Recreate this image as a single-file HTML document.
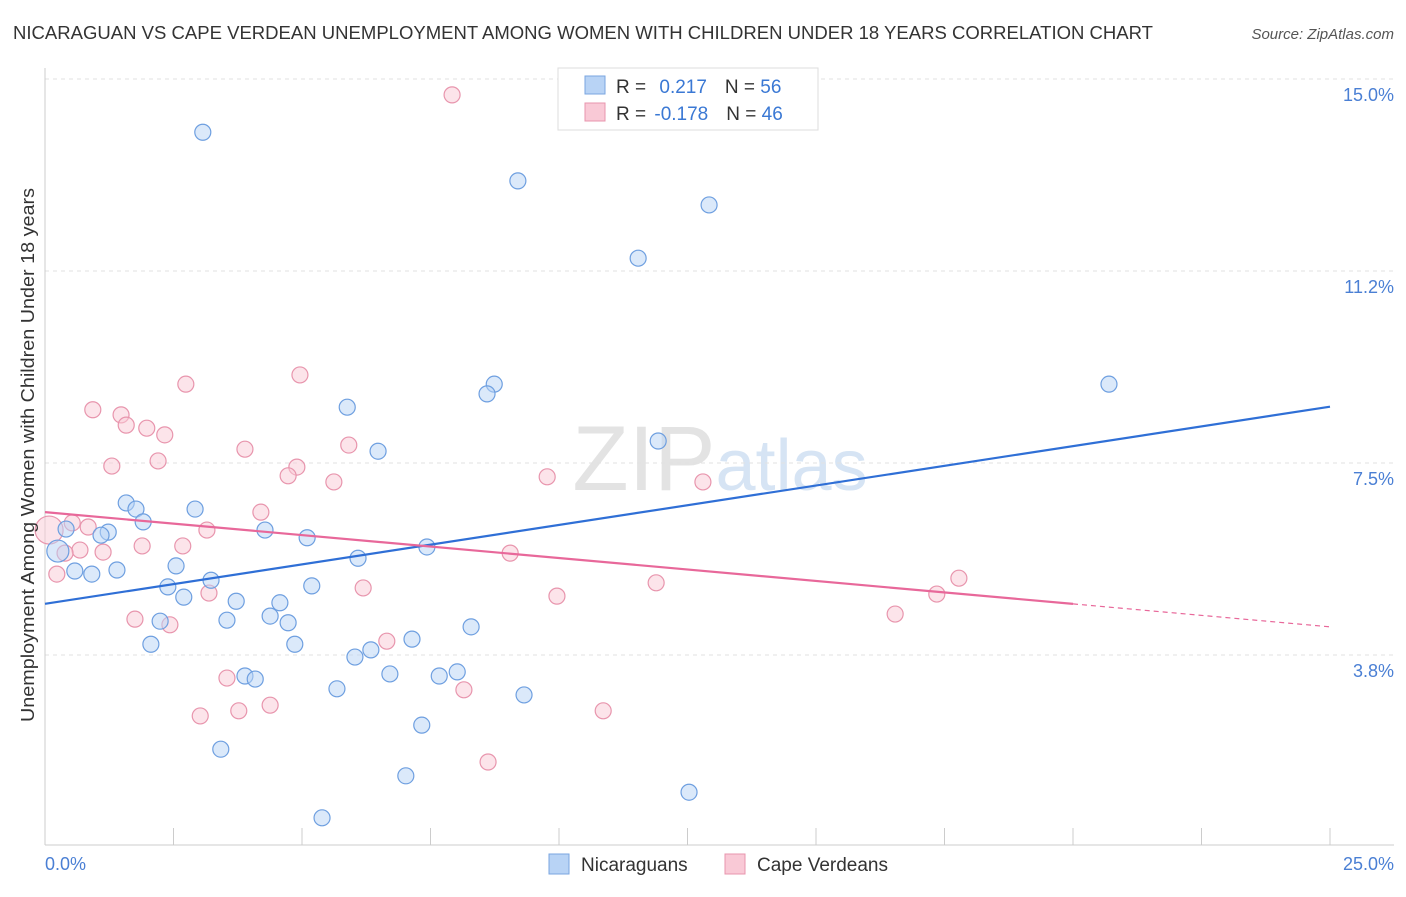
<!DOCTYPE html>
<html><head><meta charset="utf-8">
<style>
body{margin:0;background:#fff;font-family:"Liberation Sans",sans-serif;}
svg text{font-family:"Liberation Sans",sans-serif;}
</style></head>
<body>
<svg id="chart" width="1406" height="892" xmlns="http://www.w3.org/2000/svg">
<text x="13" y="39" font-size="18" fill="#333" textLength="1140" lengthAdjust="spacingAndGlyphs">NICARAGUAN VS CAPE VERDEAN UNEMPLOYMENT AMONG WOMEN WITH CHILDREN UNDER 18 YEARS CORRELATION CHART</text>
<text x="1394" y="39" font-size="15" fill="#555" font-style="italic" text-anchor="end">Source: ZipAtlas.com</text>
<text x="720" y="490" font-size="92" fill="#e3e3e3" text-anchor="middle" font-family="Liberation Serif">ZIP<tspan fill="#d6e4f4" font-family="Liberation Sans" font-size="72">atlas</tspan></text>
<g id="grid"></g>
<g id="axes"></g>
<g id="marks"></g>
<text transform="translate(34,455) rotate(-90)" font-size="18" fill="#333" text-anchor="middle" textLength="534" lengthAdjust="spacingAndGlyphs">Unemployment Among Women with Children Under 18 years</text>
<text x="45" y="870" font-size="18" fill="#4a7fd4">0.0%</text>
<text x="1394" y="870" font-size="18" fill="#4a7fd4" text-anchor="end">25.0%</text>
<g>
<rect x="558" y="68" width="260" height="62" fill="#fff" stroke="#ddd"/>
<rect x="585" y="76" width="20" height="18" fill="#b8d3f5" stroke="#7aa6e0"/>
<rect x="585" y="103" width="20" height="18" fill="#f9c9d6" stroke="#e895ad"/>
<text x="616" y="93" font-size="19" fill="#333">R = <tspan fill="#3a78d4" dx="8">0.217</tspan><tspan dx="18">N = </tspan><tspan fill="#3a78d4">56</tspan></text>
<text x="616" y="120" font-size="19" fill="#333">R = <tspan fill="#3a78d4" dx="3">-0.178</tspan><tspan dx="18">N = </tspan><tspan fill="#3a78d4">46</tspan></text>
</g>
<g>
<rect x="549" y="854" width="20" height="20" fill="#b8d3f5" stroke="#7aa6e0"/>
<text x="581" y="871" font-size="19" fill="#333">Nicaraguans</text>
<rect x="725" y="854" width="20" height="20" fill="#f9c9d6" stroke="#e895ad"/>
<text x="757" y="871" font-size="19" fill="#333">Cape Verdeans</text>
</g>
</svg>
<script>
const yTicks=[3.75,7.5,11.25,15];
const yTickLabels=["3.8%","7.5%","11.2%","15.0%"];
const xTicks=[0,2.5,5,7.5,10,12.5,15,17.5,20,22.5,25];
const blueX=[3.07,9.20,12.92,11.54,20.70,8.74,8.60,5.88,6.48,11.93,1.58,1.77,2.92,1.91,0.41,1.23,1.09,4.28,5.10,0.25,7.43,6.09,1.40,0.58,0.91,2.55,3.23,2.39,5.19,2.70,3.72,4.57,4.38,2.24,3.54,4.73,8.29,2.06,4.86,7.14,6.34,6.03,3.89,4.09,6.71,7.67,8.02,5.68,9.32,7.33,3.42,7.02,12.53,5.39];
const blueY=[13.96,13.01,12.54,11.50,9.04,9.04,8.85,8.59,7.73,7.93,6.72,6.60,6.60,6.35,6.21,6.15,6.09,6.19,6.04,5.78,5.86,5.64,5.41,5.39,5.33,5.49,5.21,5.08,5.10,4.88,4.80,4.77,4.51,4.41,4.43,4.38,4.30,3.96,3.96,4.06,3.85,3.71,3.34,3.28,3.38,3.34,3.42,3.09,2.97,2.38,1.91,1.39,1.07,0.57];
const pinkX=[7.92,4.96,2.74,0.93,1.48,1.58,1.98,2.33,5.91,3.89,2.20,1.30,4.90,4.73,5.62,9.77,12.80,4.20,0.53,0.84,0.08,3.15,2.68,1.89,0.68,1.13,0.39,9.05,0.23,17.78,11.89,6.19,3.19,9.96,17.35,16.54,1.75,2.43,6.65,3.54,8.15,4.38,3.77,10.86,3.02,8.62];
const pinkY=[14.69,9.22,9.04,8.54,8.44,8.24,8.18,8.05,7.85,7.77,7.54,7.44,7.42,7.25,7.13,7.23,7.13,6.54,6.33,6.25,6.19,6.19,5.88,5.88,5.80,5.76,5.74,5.74,5.33,5.25,5.16,5.06,4.96,4.90,4.94,4.55,4.45,4.34,4.02,3.30,3.07,2.77,2.66,2.66,2.56,1.66];
const blueTrend=[4.75,8.60];
const pinkTrend=[6.54,4.30];
const pinkSolidEnd=20;
const X=v=>45+v*51.4, Y=v=>655-(v-3.75)*51.2;
const NS="http://www.w3.org/2000/svg";
function mk(tag,attrs,parent){const e=document.createElementNS(NS,tag);for(const k in attrs)e.setAttribute(k,attrs[k]);document.getElementById(parent).appendChild(e);return e;}
yTicks.forEach((t,i)=>{
 const l=mk('line',{x1:45,x2:1394,y1:Y(t),y2:Y(t),stroke:'#e2e2e2','stroke-dasharray':'4,4'},'grid');
 
 
 const tx=mk('text',{x:1394,y:Y(t)+22,'font-size':18,fill:'#4a7fd4','text-anchor':'end'},'grid');
 tx.textContent=yTickLabels[i];
 
 
});
let a=mk('line',{x1:45,x2:45,y1:68,y2:845,stroke:'#ccc'},'axes');


a=mk('line',{x1:45,x2:1394,y1:845,y2:845,stroke:'#ccc'},'axes');


xTicks.forEach(t=>{
 const l=mk('line',{x1:X(t),x2:X(t),y1:828,y2:845,stroke:'#ccc'},'axes');
 
 
});
function dot(x,y,r,fill,stroke,name){
 const c=mk('circle',{cx:X(x),cy:Y(y),r:r,fill:fill,'fill-opacity':0.5,stroke:stroke,'stroke-width':1.2},'marks');
 
 
}
pinkX.forEach((x,i)=>dot(x,pinkY[i],i===20?14:8,'#f9c9d6','#e895ad','cape-verdean-point'));
blueX.forEach((x,i)=>dot(x,blueY[i],i===19?11:8,'#b8d3f5','#6e9fe0','nicaraguan-point'));
let t=mk('line',{x1:X(0),y1:Y(blueTrend[0]),x2:X(25),y2:Y(blueTrend[1]),stroke:'#2f6fd6','stroke-width':2.2},'marks');


const pm=pinkTrend[0]+(pinkTrend[1]-pinkTrend[0])*pinkSolidEnd/25;
t=mk('line',{x1:X(0),y1:Y(pinkTrend[0]),x2:X(pinkSolidEnd),y2:Y(pm),stroke:'#e8689a','stroke-width':2.2},'marks');


t=mk('line',{x1:X(pinkSolidEnd),y1:Y(pm),x2:X(25),y2:Y(pinkTrend[1]),stroke:'#e8689a','stroke-width':1.2,'stroke-dasharray':'5,4'},'marks');


</script>
</body></html>
